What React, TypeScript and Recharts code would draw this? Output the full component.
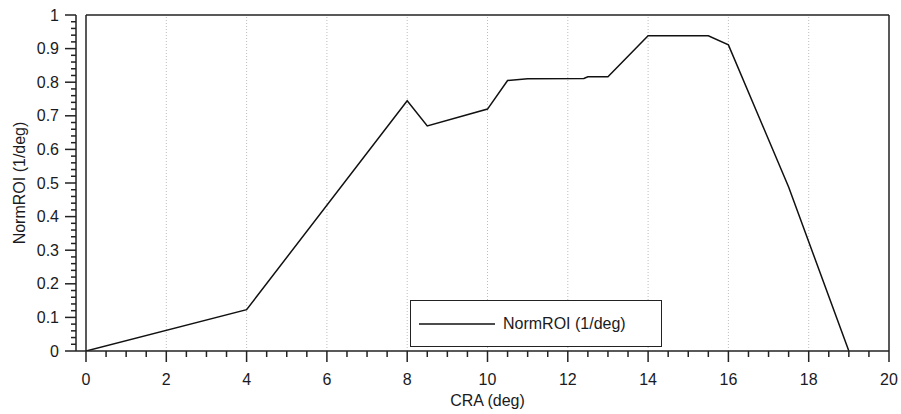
import React from 'react';
import { LineChart, Line, XAxis, YAxis, ReferenceLine, Legend } from 'recharts';

const cra = [0, 4, 8, 8.5, 10, 10.5, 11, 12.4, 12.5, 13, 14, 15.5, 16, 17.5, 19];
const roi = [0, 0.123, 0.745, 0.67, 0.72, 0.805, 0.81, 0.811, 0.816, 0.816, 0.938, 0.938, 0.911, 0.488, 0];

const xTicks = [0, 0.5, 1, 1.5, 2, 2.5, 3, 3.5, 4, 4.5, 5, 5.5, 6, 6.5, 7, 7.5, 8, 8.5, 9, 9.5, 10, 10.5, 11, 11.5, 12, 12.5, 13, 13.5, 14, 14.5, 15, 15.5, 16, 16.5, 17, 17.5, 18, 18.5, 19, 19.5, 20];
const yTicks = [0, 0.02, 0.04, 0.06, 0.08, 0.1, 0.12, 0.14, 0.16, 0.18, 0.2, 0.22, 0.24, 0.26, 0.28, 0.3, 0.32, 0.34, 0.36, 0.38, 0.4, 0.42, 0.44, 0.46, 0.48, 0.5, 0.52, 0.54, 0.56, 0.58, 0.6, 0.62, 0.64, 0.66, 0.68, 0.7, 0.72, 0.74, 0.76, 0.78, 0.8, 0.82, 0.84, 0.86, 0.88, 0.9, 0.92, 0.94, 0.96, 0.98, 1];
const gridX = [2, 4, 6, 8, 10, 12, 14, 16, 18];

const seriesName = 'NormROI (1/deg)';
const xTitle = 'CRA (deg)';
const yTitle = 'NormROI (1/deg)';

const data = cra.map((x, i) => ({ x, y: roi[i] }));

const FONT = '"Liberation Sans", Arial, sans-serif';
const TEXT = '#1a1a22';
const AXIS = '#222';

const isMajorX = (v: number) => Math.abs(v / 2 - Math.round(v / 2)) < 1e-6;
const isMajorY = (v: number) => Math.abs(v * 10 - Math.round(v * 10)) < 1e-6;

const XTick = (props: any) => {
  const { x, y, payload } = props;
  const v = payload.value;
  const major = isMajorX(v);
  return (
    <g>
      <line x1={x} x2={x} y1={y} y2={y + (major ? 11 : 6)} stroke={AXIS} strokeWidth={1.5} />
      {major && (
        <text x={x} y={y + 34} textAnchor="middle" fontFamily={FONT} fontSize={16} fill={TEXT}>
          {v}
        </text>
      )}
    </g>
  );
};

const YTick = (props: any) => {
  const { x, y, payload } = props;
  const v = payload.value;
  const major = isMajorY(v);
  return (
    <g>
      <line x1={x - (major ? 11 : 5)} x2={x} y1={y} y2={y} stroke={AXIS} strokeWidth={1.5} />
      {major && (
        <text x={x - 17} y={y} dy="0.35em" textAnchor="end" fontFamily={FONT} fontSize={16} fill={TEXT}>
          {Math.round(v * 10) / 10}
        </text>
      )}
    </g>
  );
};

const YLabel = (props: any) => {
  const { viewBox } = props;
  const cx = viewBox.x + 25;
  const cy = viewBox.y + viewBox.height / 2;
  return (
    <text x={cx} y={cy} transform={`rotate(-90, ${cx}, ${cy})`} textAnchor="middle" fontFamily={FONT} fontSize={16} fill={TEXT}>
      {yTitle}
    </text>
  );
};

const XLabel = (props: any) => {
  const { viewBox } = props;
  const cx = viewBox.x + viewBox.width / 2 + 5;
  return (
    <text x={cx} y={viewBox.y + 55} textAnchor="middle" fontFamily={FONT} fontSize={16} fill={TEXT}>
      {xTitle}
    </text>
  );
};

const LegendBox = () => (
  <div
    style={{
      boxSizing: 'border-box',
      width: 252,
      height: 47,
      border: '1.5px solid #222',
      background: '#fff',
      display: 'flex',
      alignItems: 'center',
      fontFamily: FONT,
      fontSize: 16,
      color: TEXT,
    }}
  >
    <svg width={76} height={4} style={{ marginLeft: 8 }}>
      <line x1={0} x2={76} y1={2} y2={2} stroke="#111" strokeWidth={1.5} />
    </svg>
    <span style={{ marginLeft: 8, whiteSpace: 'nowrap' }}>{seriesName}</span>
  </div>
);

export default function App() {
  return (
    <div style={{ position: 'absolute', left: 0, top: 0, background: '#fff' }}>
      <LineChart width={901} height={414} data={data} margin={{ top: 15, right: 12, left: 0, bottom: 0 }}>
        <XAxis
          dataKey="x"
          type="number"
          domain={[0, 20]}
          ticks={xTicks}
          interval={0}
          padding={{ left: 10, right: 0 }}
          height={63}
          tickSize={0}
          tickMargin={0}
          tickLine={false}
          tick={<XTick />}
          axisLine={{ stroke: AXIS, strokeWidth: 1.5 }}
          allowDataOverflow
          label={<XLabel />}
        />
        <YAxis
          type="number"
          domain={[0, 1]}
          ticks={yTicks}
          interval={0}
          width={76}
          tickSize={0}
          tickMargin={0}
          tickLine={false}
          tick={<YTick />}
          axisLine={{ stroke: AXIS, strokeWidth: 1.5 }}
          allowDataOverflow
          label={<YLabel />}
        />
        {gridX.map((g) => (
          <ReferenceLine key={g} x={g} stroke="#bdbdbd" strokeDasharray="1 2" strokeWidth={1} ifOverflow="visible" />
        ))}
        <ReferenceLine x={0} stroke={AXIS} strokeWidth={1.5} ifOverflow="visible" />
        <ReferenceLine x={20} stroke={AXIS} strokeWidth={1.5} ifOverflow="visible" />
        <ReferenceLine segment={[{ x: 0, y: 1 }, { x: 20, y: 1 }]} stroke={AXIS} strokeWidth={1.5} ifOverflow="visible" />
        <Line
          type="linear"
          dataKey="y"
          stroke="#111"
          strokeWidth={1.5}
          dot={false}
          activeDot={false}
          isAnimationActive={false}
          name={seriesName}
        />
        <Legend
          layout="vertical"
          align="center"
          verticalAlign="middle"
          content={<LegendBox />}
          wrapperStyle={{ left: 410, top: 300, width: 252, height: 47 }}
        />
      </LineChart>
    </div>
  );
}
